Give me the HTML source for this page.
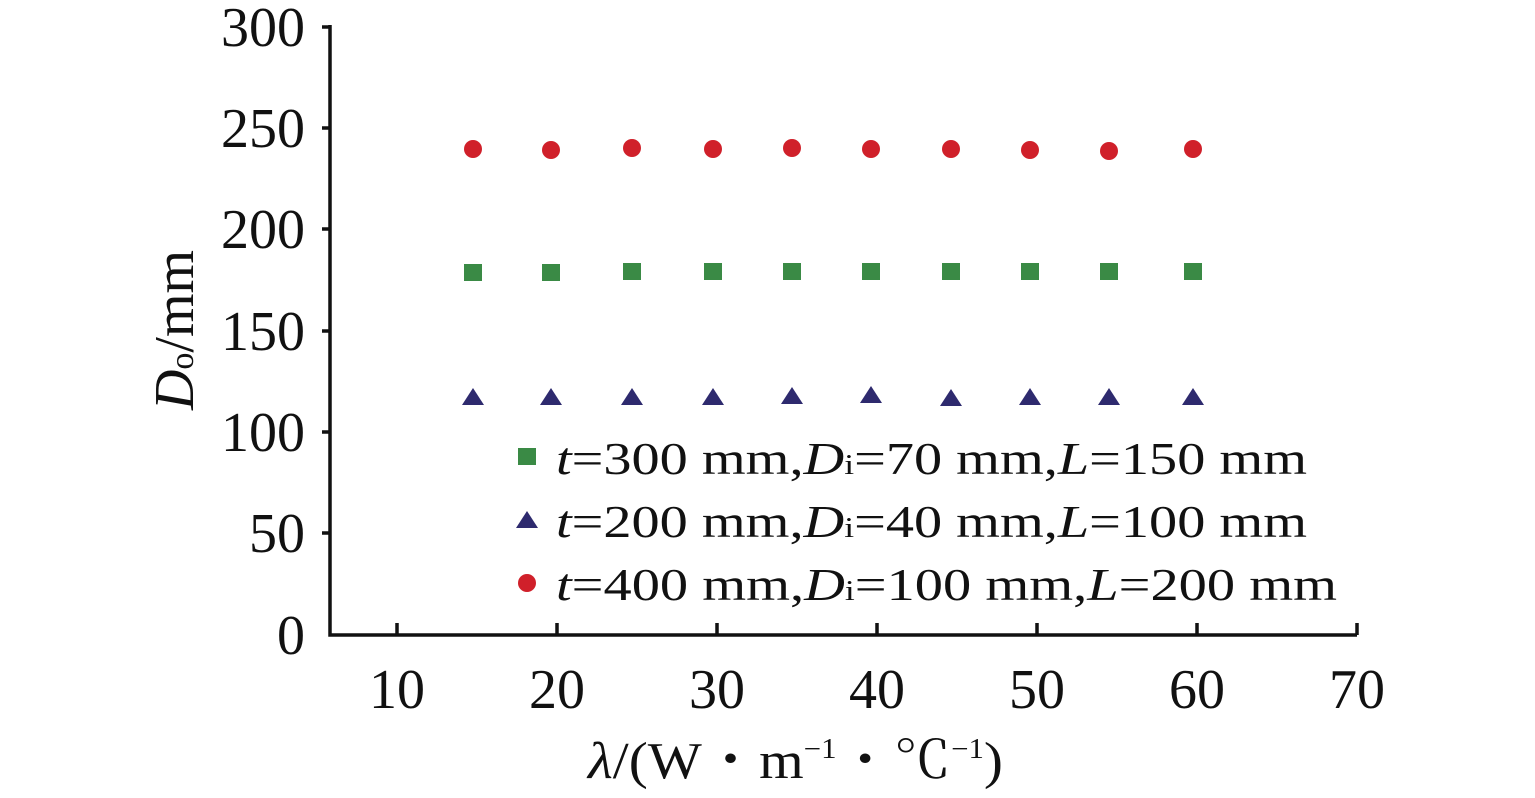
<!DOCTYPE html>
<html><head><meta charset="utf-8"><style>
body{margin:0;background:#fff}
svg text{font-family:"Liberation Serif","Noto Serif CJK SC",serif;fill:#111}
</style></head><body>
<svg width="1535" height="793" viewBox="0 0 1535 793" xmlns="http://www.w3.org/2000/svg">
<g stroke="#111" stroke-width="3.5" fill="none">
<path d="M330 25 V635 H1357"/>
<path d="M322 27 H330 M322 128 H330 M322 229 H330 M322 331 H330 M322 432 H330 M322 533 H330"/>
<path d="M397 635 V623 M557 635 V623 M717 635 V623 M877 635 V623 M1037 635 V623 M1197 635 V623 M1357 635 V623"/>
</g>
<g font-size="56" text-anchor="end">
<text x="305" y="46">300</text><text x="305" y="147">250</text><text x="305" y="248">200</text>
<text x="305" y="350">150</text><text x="305" y="451">100</text><text x="305" y="552">50</text><text x="305" y="654">0</text>
</g>
<g font-size="56" text-anchor="middle">
<text x="397" y="708">10</text><text x="557" y="708">20</text><text x="717" y="708">30</text><text x="877" y="708">40</text>
<text x="1037" y="708">50</text><text x="1197" y="708">60</text><text x="1357" y="708">70</text>
</g>
<text font-size="56" transform="translate(193 330) rotate(-90)" text-anchor="middle" textLength="160" lengthAdjust="spacingAndGlyphs"><tspan font-style="italic">D</tspan><tspan font-size="34">o</tspan>/mm</text>
<text x="588" y="778" font-size="52" textLength="415" lengthAdjust="spacingAndGlyphs"><tspan font-style="italic">λ</tspan>/(W・m<tspan font-size="28" dy="-20">−1</tspan><tspan dy="20">・℃</tspan><tspan font-size="28" dy="-20">−1</tspan><tspan dy="20">)</tspan></text>
<g fill="#d0202a">
<circle cx="473" cy="149" r="9"/><circle cx="551" cy="150" r="9"/><circle cx="632" cy="148" r="9"/><circle cx="713" cy="149" r="9"/><circle cx="792" cy="148" r="9"/><circle cx="871" cy="149" r="9"/><circle cx="951" cy="149" r="9"/><circle cx="1030" cy="150" r="9"/><circle cx="1109" cy="151" r="9"/><circle cx="1193" cy="149" r="9"/>
<circle cx="527" cy="583" r="9"/>
</g>
<g fill="#3a8a45">
<rect x="464" y="264" width="18" height="17"/><rect x="542" y="264" width="18" height="17"/><rect x="623" y="263" width="18" height="17"/><rect x="704" y="263" width="18" height="17"/><rect x="783" y="263" width="18" height="17"/><rect x="862" y="263" width="18" height="17"/><rect x="942" y="263" width="18" height="17"/><rect x="1021" y="263" width="18" height="17"/><rect x="1100" y="263" width="18" height="17"/><rect x="1184" y="263" width="18" height="17"/>
<rect x="518" y="448" width="18" height="17"/>
</g>
<g fill="#2e2a6e">
<path d="M473 388 l11 17 h-22z"/><path d="M551 388 l11 17 h-22z"/><path d="M632 388 l11 17 h-22z"/><path d="M713 388 l11 17 h-22z"/><path d="M792 387 l11 17 h-22z"/><path d="M871 386 l11 17 h-22z"/><path d="M951 389 l11 17 h-22z"/><path d="M1030 388 l11 17 h-22z"/><path d="M1109 388 l11 17 h-22z"/><path d="M1193 388 l11 17 h-22z"/>
<path d="M527 511 l11 17 h-22z"/>
</g>
<g font-size="46">
<text x="556" y="474" textLength="751" lengthAdjust="spacingAndGlyphs"><tspan font-style="italic">t</tspan>=300 mm,<tspan font-style="italic">D</tspan><tspan font-size="29">i</tspan>=70 mm,<tspan font-style="italic">L</tspan>=150 mm</text>
<text x="556" y="537" textLength="751" lengthAdjust="spacingAndGlyphs"><tspan font-style="italic">t</tspan>=200 mm,<tspan font-style="italic">D</tspan><tspan font-size="29">i</tspan>=40 mm,<tspan font-style="italic">L</tspan>=100 mm</text>
<text x="556" y="600" textLength="781" lengthAdjust="spacingAndGlyphs"><tspan font-style="italic">t</tspan>=400 mm,<tspan font-style="italic">D</tspan><tspan font-size="29">i</tspan>=100 mm,<tspan font-style="italic">L</tspan>=200 mm</text>
</g>
</svg>
</body></html>
